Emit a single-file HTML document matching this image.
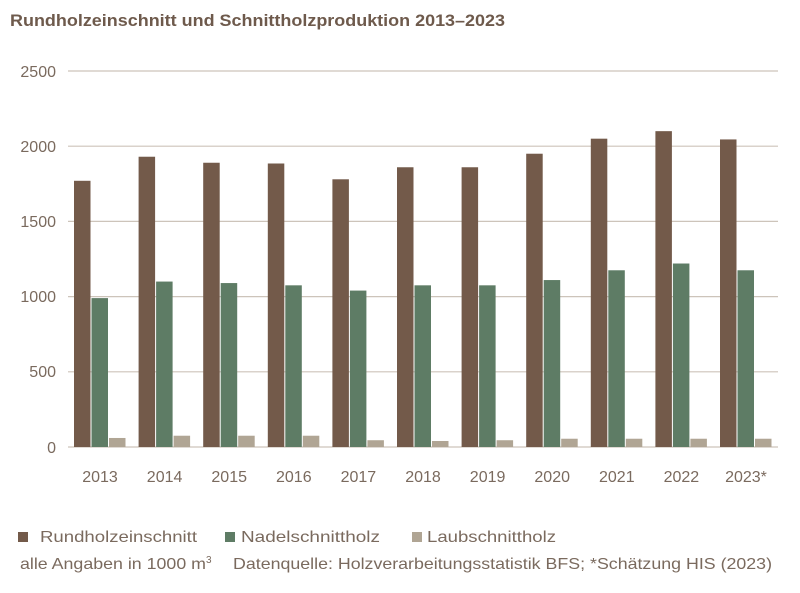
<!DOCTYPE html>
<html><head><meta charset="utf-8"><style>
body{margin:0;background:#fff;width:800px;height:588px;overflow:hidden}
svg text{font-family:"Liberation Sans Narrow","Liberation Sans",sans-serif;fill:#7a6a5e}
</style></head><body>
<svg width="800" height="588" xmlns="http://www.w3.org/2000/svg">
<text x="10" y="26" font-size="17" font-weight="bold" style="fill:#6e5a4c" textLength="495" lengthAdjust="spacingAndGlyphs">Rundholzeinschnitt und Schnittholzproduktion 2013–2023</text>
<g stroke="#cdc4ba" stroke-width="1.2">
<line x1="68" x2="778" y1="71" y2="71"/><line x1="68" x2="778" y1="146.2" y2="146.2"/><line x1="68" x2="778" y1="221.4" y2="221.4"/><line x1="68" x2="778" y1="296.6" y2="296.6"/><line x1="68" x2="778" y1="371.8" y2="371.8"/><line x1="68" x2="778" y1="447" y2="447"/>
</g>
<g font-size="16" text-anchor="end">
<text x="56" y="77">2500</text><text x="56" y="152">2000</text><text x="56" y="227">1500</text><text x="56" y="302">1000</text><text x="56" y="377">500</text><text x="56" y="453">0</text>
</g>
<g id="bars"></g>
<g font-size="16" text-anchor="middle" id="labels"></g>
<rect x="18" y="532" width="10" height="10" fill="#735a4a"/>
<text x="40" y="542" font-size="16" textLength="157" lengthAdjust="spacingAndGlyphs">Rundholzeinschnitt</text>
<rect x="225" y="532" width="10" height="10" fill="#5e7c65"/>
<text x="241" y="542" font-size="16" textLength="139" lengthAdjust="spacingAndGlyphs">Nadelschnittholz</text>
<rect x="412" y="532" width="10" height="10" fill="#b0a594"/>
<text x="427" y="542" font-size="16" textLength="129" lengthAdjust="spacingAndGlyphs">Laubschnittholz</text>
<text x="20" y="569" font-size="16" textLength="186" lengthAdjust="spacingAndGlyphs">alle Angaben in 1000 m</text>
<text x="206" y="563" font-size="10">3</text>
<text x="233" y="569" font-size="16" textLength="539" lengthAdjust="spacingAndGlyphs">Datenquelle: Holzverarbeitungsstatistik BFS; *Schätzung HIS (2023)</text>
</svg>
<script>
var R=[1770,1930,1890,1885,1780,1860,1860,1950,2050,2100,2045],
N=[990,1100,1090,1075,1040,1075,1075,1110,1175,1220,1175],
L=[60,75,75,75,45,40,45,55,55,55,55],
Y=["2013","2014","2015","2016","2017","2018","2019","2020","2021","2022","2023*"];
var s="",t="",k=0.1504;
for(var i=0;i<11;i++){var x=74+i*64.6;
[[R,"#735a4a",0],[N,"#5e7c65",17.5],[L,"#b0a594",35]].forEach(function(a){var h=a[0][i]*k;
s+='<rect x="'+(x+a[2])+'" y="'+(447-h)+'" width="16.5" height="'+h+'" fill="'+a[1]+'"/>';});
t+='<text x="'+(x+26)+'" y="482">'+Y[i]+'</text>';}
document.getElementById("bars").innerHTML=s;
document.getElementById("labels").innerHTML=t;
</script>
</body></html>
